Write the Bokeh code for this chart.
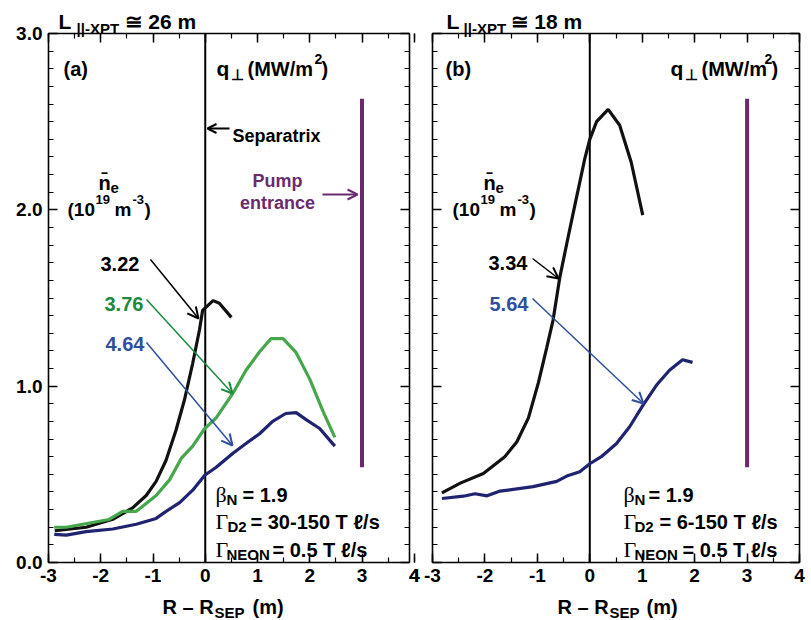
from bokeh.plotting import figure
from bokeh.models import (Range1d, FixedTicker, LinearAxis, Label, Arrow, OpenHead,
                          PrintfTickFormatter, CustomLabelingPolicy)
from bokeh.embed import file_html
from bokeh.resources import INLINE

# ---------------- data ----------------
x_ticks = [-3, -2, -1, 0, 1, 2, 3, 4]
x_minor = [-3.0, -2.5, -2.0, -1.5, -1.0, -0.5, 0.0, 0.5, 1.0, 1.5, 2.0, 2.5, 3.0, 3.5, 4.0]
y_ticks = [0.0, 1.0, 2.0, 3.0]
x_tick_labels = {-3: "-3", -2: "-2", -1: "-1"}

# panel (a)  L||-XPT ~ 26 m
a_322_x = [-2.88, -2.28, -1.77, -1.39, -1.13, -0.94, -0.75, -0.56, -0.40, -0.24, -0.11, -0.05, 0.15, 0.27, 0.50]
a_322_y = [0.18, 0.20, 0.245, 0.31, 0.38, 0.46, 0.58, 0.75, 0.92, 1.13, 1.32, 1.43, 1.485, 1.47, 1.39]

a_376_x = [-2.89, -2.66, -2.29, -1.84, -1.58, -1.32, -0.94, -0.68, -0.46, -0.24, -0.01, 0.21, 0.53, 0.78,
           1.04, 1.26, 1.49, 1.74, 2.00, 2.25, 2.48]
a_376_y = [0.20, 0.20, 0.22, 0.244, 0.29, 0.29, 0.38, 0.47, 0.59, 0.66, 0.76, 0.82, 0.96, 1.09,
           1.195, 1.27, 1.27, 1.19, 1.04, 0.86, 0.71]

a_464_x = [-2.89, -2.66, -2.28, -1.77, -1.32, -0.94, -0.75, -0.49, -0.24, -0.01, 0.21, 0.53, 0.78, 1.04,
           1.29, 1.54, 1.74, 1.93, 2.19, 2.48]
a_464_y = [0.16, 0.155, 0.175, 0.19, 0.217, 0.25, 0.29, 0.34, 0.41, 0.495, 0.54, 0.62, 0.675, 0.73,
           0.80, 0.845, 0.85, 0.81, 0.76, 0.66]

# panel (b)  L||-XPT ~ 18 m
b_334_x = [-2.82, -2.47, -2.03, -1.62, -1.39, -1.17, -0.98, -0.82, -0.70, -0.57, -0.41, -0.25, -0.095,
           0.0, 0.13, 0.35, 0.57, 0.79, 1.01]
b_334_y = [0.395, 0.45, 0.505, 0.60, 0.685, 0.82, 1.02, 1.22, 1.375, 1.62, 1.85, 2.075, 2.29,
           2.40, 2.50, 2.57, 2.48, 2.27, 1.97]

b_564_x = [-2.82, -2.41, -2.19, -1.96, -1.71, -1.08, -0.63, -0.44, -0.19, 0.0, 0.22, 0.51, 0.76, 1.01,
           1.27, 1.52, 1.77, 1.96]
b_564_y = [0.363, 0.376, 0.39, 0.378, 0.405, 0.43, 0.46, 0.49, 0.515, 0.56, 0.60, 0.675, 0.77, 0.89,
           1.005, 1.09, 1.15, 1.135]

separatrix_x = 0.0
pump_x = 3.0
pump_y = [0.54, 2.63]

# ---------------- layout / style ----------------
W, H = 811, 620
FONT = "Liberation Sans"
SERIF = "Liberation Serif"
BLACK = "#111111"
GREEN = "#46a64b"
NAVY = "#1f2370"
PURPLE = "#6b2a6e"
GREEN_T = "#1b8a3c"
BLUE_T = "#2f4f9c"

# pixel geometry of the two panel frames
Y0_PX, Y3_PX = 562, 33
A_X0_PX, A_PPU, A_RIGHT_PX = 48, 52.25, 409
B_X0_PX, B_PPU = 432, 52.43


def ya(py):
    return (Y0_PX - py) / ((Y0_PX - Y3_PX) / 3.0)


def xa(px):
    return -3 + (px - A_X0_PX) / A_PPU


def xb(px):
    return -3 + (px - B_X0_PX) / B_PPU


A_XMAX = xa(A_RIGHT_PX)

p = figure(width=W, height=H, output_backend="svg", toolbar_location=None,
           x_range=Range1d(xa(0), xa(W)), y_range=Range1d(ya(H), ya(0)),
           min_border=0, min_border_left=0, min_border_right=0, min_border_top=0, min_border_bottom=0,
           x_axis_type=None, y_axis_type=None)
p.extra_x_ranges = {"b": Range1d(xb(0), xb(W))}
p.title.visible = False
p.xgrid.visible = False
p.ygrid.visible = False
p.outline_line_color = None
p.background_fill_color = "white"
p.border_fill_color = "white"


def add_axis(side, rng, loc, bounds, ticks, minor, labels, formatter=None, overrides=None):
    ax = LinearAxis(fixed_location=loc, bounds=bounds, ticker=FixedTicker(ticks=ticks, minor_ticks=minor))
    if rng == "b":
        ax.x_range_name = "b"
    ax.axis_line_color = "black"
    ax.axis_line_width = 1.6
    ax.major_tick_line_color = "black"
    ax.major_tick_line_width = 1.5
    ax.minor_tick_line_color = "black"
    ax.minor_tick_line_width = 1.2
    ax.major_tick_in = 9
    ax.major_tick_out = 0
    ax.minor_tick_in = 5
    ax.minor_tick_out = 0
    if labels:
        ax.major_label_text_font = FONT
        ax.major_label_text_font_size = "19px"
        ax.major_label_text_font_style = "bold"
        ax.major_label_text_color = "black"
        ax.major_label_standoff = 6
        if formatter is not None:
            ax.formatter = formatter
        if overrides is not None:
            ax.major_label_overrides = overrides
    else:
        ax.major_label_policy = CustomLabelingPolicy(code="return []")
    p.add_layout(ax, side)


y_minor = [i / 10 for i in range(31)]
# panel (a) frame axes
add_axis("below", "a", 0.0, (-3, A_XMAX), x_ticks, x_minor, True, overrides=x_tick_labels)
add_axis("above", "a", 3.0, (-3, A_XMAX), x_ticks, x_minor, False)
add_axis("left", "a", -3.0, (0, 3), y_ticks, y_minor, True, formatter=PrintfTickFormatter(format="%.1f"))
add_axis("right", "a", A_XMAX, (0, 3), y_ticks, y_minor, False)
# panel (b) frame axes
add_axis("below", "b", 0.0, (-3, 4), x_ticks, x_minor, True, overrides=x_tick_labels)
add_axis("above", "b", 3.0, (-3, 4), x_ticks, x_minor, False)
add_axis("left", "b", -3.0, (0, 3), y_ticks, y_minor, False)
add_axis("right", "b", 4.0, (0, 3), y_ticks, y_minor, False)

# separatrix and pump entrance markers
for rn in ("default", "b"):
    p.segment(x0=[separatrix_x], y0=[0], x1=[separatrix_x], y1=[3], line_color="black", line_width=2,
              x_range_name=rn)
    p.segment(x0=[pump_x], y0=[pump_y[0]], x1=[pump_x], y1=[pump_y[1]], line_color=PURPLE, line_width=4,
              x_range_name=rn)

# profiles
p.line(a_322_x, a_322_y, line_color=BLACK, line_width=3.2)
p.line(a_376_x, a_376_y, line_color=GREEN, line_width=3.2)
p.line(a_464_x, a_464_y, line_color=NAVY, line_width=3.2)
p.line(b_334_x, b_334_y, line_color=BLACK, line_width=3.2, x_range_name="b")
p.line(b_564_x, b_564_y, line_color=NAVY, line_width=3.2, x_range_name="b")


def put(px, py, text, size=20, color="black", align="left", style="bold", font=FONT, baseline="alphabetic"):
    p.add_layout(Label(x=px, y=H - py, x_units="screen", y_units="screen", text=text,
                       text_font=font, text_font_size=f"{size}px", text_font_style=style,
                       text_color=color, text_align=align, text_baseline=baseline))


def arrow(p0, p1, color, lw=1.5, head=11):
    p.add_layout(Arrow(end=OpenHead(size=head, line_color=color, line_width=2),
                       x_start=p0[0], y_start=H - p0[1], x_end=p1[0], y_end=H - p1[1],
                       start_units="screen", end_units="screen",
                       line_color=color, line_width=lw))


# ---- titles
for (lx, sx, ex, txt) in ((58, 76, 124, "26 m"), (446, 463, 510, "18 m")):
    put(lx, 21, "L", size=21)
    put(sx, 28, "||-XPT", size=15)
    put(ex, 21, "\u2245 " + txt, size=21)

put(63, 68, "(a)")
put(445, 68, "(b)")

# ---- q_perp headers
for qx, q2 in ((216, 314), (670, 764)):
    put(qx, 68, "q", size=21)
    put(qx + 14, 74, "\u22a5", size=15)
    put(qx + 31, 68, "(MW/m", size=20)
    put(q2, 58, "2", size=14)
    put(q2 + 7, 68, ")", size=20)

# ---- n_e blocks
for dx in (0, 385):
    put(98 + dx, 182, "n\u0304")
    put(110 + dx, 187, "e", size=15)
    put(67 + dx, 209, "(10", size=19)
    put(95 + dx, 199, "19", size=13)
    put(114 + dx, 209, "m", size=19)
    put(132 + dx, 199, "-3", size=13)
    put(144 + dx, 209, ")", size=19)

# ---- parameters
stats = [
    # (beta_x, N_x, eq_x, D2_x, eq2_x, NEON_x, eq3_x, d2 range)
    (215, 226, 242, 227, 250, 226, 272, "30-150"),
    (623, 634, 648, 634, 659, 634, 682, "6-150"),
]
for bx, nx, ex, dx2, ex2, nex, ex3, rng in stats:
    put(bx, 494, "\u03b2", size=22, style="normal", font=SERIF)
    put(nx, 499, "N", size=15)
    put(ex, 494, "= 1.9")
    put(bx, 521, "\u0393", size=22, style="normal", font=SERIF)
    put(dx2, 526, "D2", size=15)
    put(ex2, 521, "= " + rng + " T \u2113/s")
    put(bx, 549, "\u0393", size=22, style="normal", font=SERIF)
    put(nex, 554, "NEON", size=15)
    put(ex3, 549, "= 0.5 T \u2113/s")

# ---- x labels
for rx, sx, mx in ((162, 214, 252), (557, 609, 646)):
    put(rx, 606, "R \u2013 R", size=20)
    put(sx, 612, "SEP", size=15)
    put(mx, 606, "(m)", size=20)

# tick label 4 sitting just past panel (a)'s right edge
put(414, Y0_PX + 6, "4", size=19, align="center", baseline="top")

# ---- panel (a) annotations
arrow((229, 128), (207, 128), "black", lw=2, head=9)
put(232, 135, "Separatrix", size=18)
put(277, 180, "Pump", size=18, color=PURPLE, align="center")
put(277, 202, "entrance", size=18, color=PURPLE, align="center")
arrow((322, 194), (357, 194), PURPLE, lw=2, head=10)
put(100, 263, "3.22")
arrow((150, 259), (198, 318), "black")
put(104, 303, "3.76", color=GREEN_T)
arrow((146, 299), (232, 393), GREEN_T)
put(105, 343, "4.64", color=BLUE_T)
arrow((146, 342), (232, 445), BLUE_T)

# ---- panel (b) annotations
put(488, 262, "3.34")
arrow((532, 258), (558, 278), "black")
put(489, 303, "5.64", color=BLUE_T)
arrow((532, 298), (643, 403), BLUE_T)

open("out.html", "w").write(file_html(p, INLINE))
